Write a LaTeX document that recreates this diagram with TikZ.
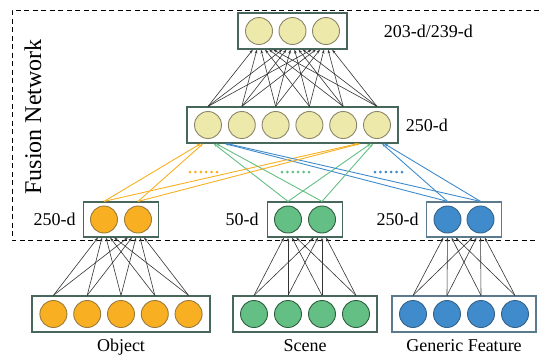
\documentclass[tikz,border=0pt]{standalone}
\usepackage{fontspec}
\setmainfont{Liberation Serif}
\usetikzlibrary{calc,positioning,arrows.meta}
\definecolor{cYel}{HTML}{EDE9AB}
\definecolor{cYelD}{HTML}{8C8669}
\definecolor{cOra}{HTML}{F8B022}
\definecolor{cOraD}{HTML}{9C7A3A}
\definecolor{cGre}{HTML}{63BF83}
\definecolor{cGreD}{HTML}{2F5F40}
\definecolor{cBlu}{HTML}{3F8BCB}
\definecolor{cBluD}{HTML}{36638A}
\definecolor{cBox}{HTML}{46675A}
\definecolor{cBoxB}{HTML}{5B7A8E}
\tikzset{
  unit/.style={circle,draw,line width=0.9pt,minimum size=27pt,inner sep=0pt},
  layer/.style={draw=cBox,line width=1.2pt,fill=white,inner sep=0pt},
  link/.style={draw=black!80,line width=0.6pt,-{Stealth[length=4pt,width=2.6pt]}},
  flow/.style={line width=0.9pt,-{Stealth[length=4pt,width=2.6pt]}},
  lab/.style={inner sep=0pt,font=\fontsize{18}{20}\selectfont},
  frame/.style={dashed,line width=0.7pt,dash pattern=on 5pt off 3.5pt},
}
\begin{document}
\begin{tikzpicture}[x=1pt,y=-1pt]
\useasboundingbox (0,0) rectangle (539,354);
% fusion network frame
\draw[frame] (539,10) -- (12,10) -- (12,240) -- (539,240);
\node[lab,font=\fontsize{24}{26}\selectfont,rotate=90] (fus) at (33,117) {Fusion Network};

% layer boxes
\node[layer,minimum width=109pt,minimum height=36pt] (topbox) at (292.5,31) {};
\node[layer,minimum width=211pt,minimum height=36pt] (midbox) at (292.5,125) {};
\node[layer,minimum width=75pt,minimum height=35pt] (objbox) at (121,219.5) {};
\node[layer,minimum width=75pt,minimum height=35pt] (scnbox) at (305,219.5) {};
\node[layer,draw=cBoxB,minimum width=75pt,minimum height=35pt] (genbox) at (464,219.5) {};
\node[layer,minimum width=178pt,minimum height=36pt] (objin) at (121,314) {};
\node[layer,minimum width=144pt,minimum height=36pt] (scnin) at (305,314) {};
\node[layer,draw=cBoxB,minimum width=144pt,minimum height=36pt] (genin) at (464,314) {};

% units
\foreach \i in {1,2,3}
  \node[unit,fill=cYel,draw=cYelD] (t\i) at ({292.5+(\i-2)*33.5},31) {};
\foreach \i in {1,...,6}
  \node[unit,fill=cYel,draw=cYelD] (m\i) at ({292.5+(\i-3.5)*33.8},125) {};
\foreach \i in {1,2} {
  \node[unit,fill=cOra,draw=cOraD] (o\i) at ({121+(\i-1.5)*34},219.5) {};
  \node[unit,fill=cGre,draw=cGreD] (s\i) at ({305+(\i-1.5)*34},219.5) {};
  \node[unit,fill=cBlu,draw=cBluD] (g\i) at ({464+(\i-1.5)*33},219.5) {};
}
\foreach \i in {1,...,5}
  \node[unit,fill=cOra,draw=cOraD] (oi\i) at ({121+(\i-3)*33.8},314) {};
\foreach \i in {1,...,4} {
  \node[unit,fill=cGre,draw=cGreD] (si\i) at ({305+(\i-2.5)*34},314) {};
  \node[unit,fill=cBlu,draw=cBluD] (gi\i) at ({464+(\i-2.5)*34},314) {};
}

% dense links
\foreach \i in {1,...,6}
  \foreach \j in {1,2,3}
    \draw[link] (m\i |- midbox.north) -- ($(t\j |- topbox.south)!0.12!(m\i |- topbox.south)$);
\foreach \j in {1,2} {
  \foreach \i in {1,...,5}
    \draw[link] (oi\i |- objin.north) -- ($(o\j |- objbox.south)!0.12!(oi\i |- objbox.south)$);
  \foreach \i in {1,...,4} {
    \draw[link] (si\i |- scnin.north) -- ($(s\j |- scnbox.south)!0.12!(si\i |- scnbox.south)$);
    \draw[link] (gi\i |- genin.north) -- ($(g\j |- genbox.south)!0.12!(gi\i |- genbox.south)$);
  }
}

% fusion links
\foreach \i in {1,2}
  \foreach \j in {1,6} {
    \draw[flow,cOra] (o\i |- objbox.north) -- ($(m\j |- midbox.south)!0.07!(o\i |- midbox.south)$);
    \draw[flow,cGre] (s\i |- scnbox.north) -- ($(m\j |- midbox.south)!0.07!(s\i |- midbox.south)$);
    \draw[flow,cBlu] (g\i |- genbox.north) -- ($(m\j |- midbox.south)!0.07!(g\i |- midbox.south)$);
  }
\foreach \k in {0,...,5} {
  \fill[cOra] ({190+\k*5.4},172) circle (1.5pt);
  \fill[cGre] ({282+\k*5.4},172) circle (1.5pt);
  \fill[cBlu] ({375+\k*5.4},172) circle (1.5pt);
}

% labels
\node[lab,right=36pt of topbox.east] (ltop) {203-d/239-d};
\node[lab,right=7pt of midbox.east] (lmid) {250-d};
\node[lab,left=7pt of objbox.west] (lobj) {250-d};
\node[lab,left=8pt of scnbox.west] (lscn) {50-d};
\node[lab,left=7pt of genbox.west] (lgen) {250-d};
\node[lab,anchor=base] (nobj) at (121,351) {Object};
\node[lab,anchor=base] (nscn) at (305,351) {Scene};
\node[lab,anchor=base] (ngen) at (464,351) {Generic Feature};
\end{tikzpicture}
\end{document}
